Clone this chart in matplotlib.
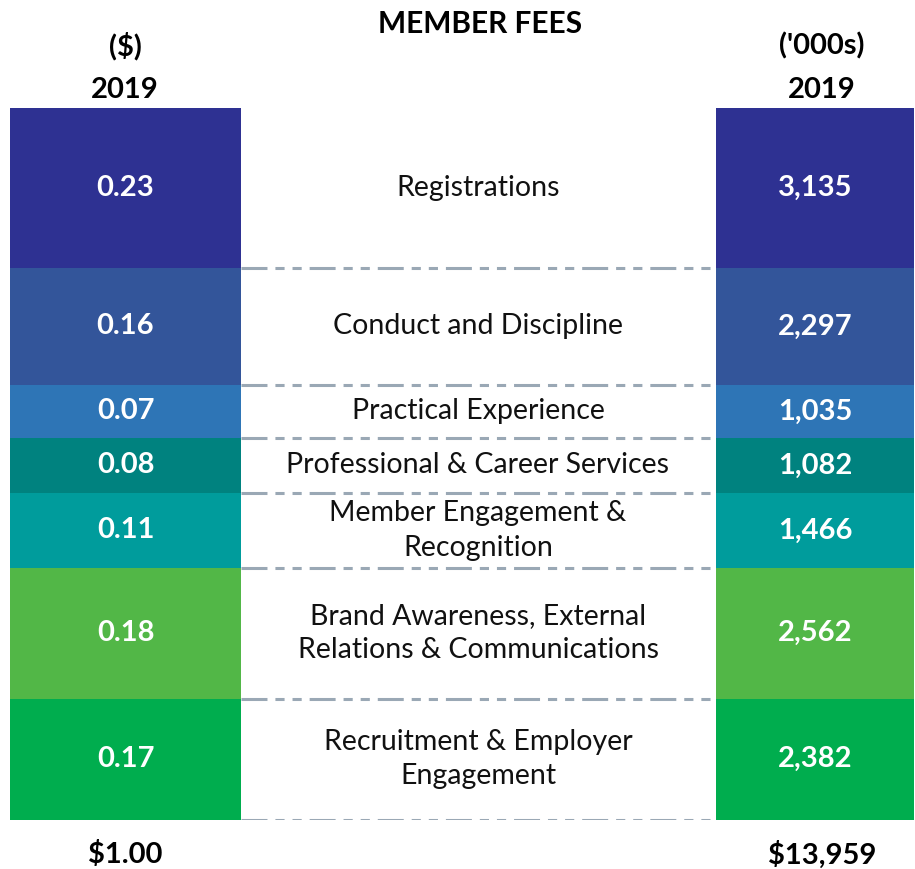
import matplotlib.pyplot as plt
import numpy as np

plt.rcParams["font.family"] = ["Lato", "DejaVu Sans"]

categories = ["Registrations", "Conduct and Discipline", "Practical Experience",
              "Professional & Career Services", "Member Engagement &\nRecognition",
              "Brand Awareness, External\nRelations & Communications",
              "Recruitment & Employer\nEngagement"]
per_dollar = [0.23, 0.16, 0.07, 0.08, 0.11, 0.18, 0.17]
thousands = [3135, 2297, 1035, 1082, 1466, 2562, 2382]
colors = ["#2e3192", "#33559a", "#2e75b6", "#00827f", "#009c9c", "#52b747", "#00ad4e"]

W, H = 915, 869
fig = plt.figure(figsize=(W / 100, H / 100), dpi=100)

# axes that hold the two stacked columns (pixel x, value y)
top, bottom = 108, 820
ax = fig.add_axes([0, 1 - bottom / H, 1, (bottom - top) / H])
total = sum(thousands)
ax.set_xlim(0, W)
ax.set_ylim(total, 0)
ax.axis("off")

starts = np.concatenate([[0], np.cumsum(thousands)[:-1]])
ax.bar(125.5, thousands, bottom=starts, width=231, color=colors, align="center")
ax.bar(815, thousands, bottom=starts, width=198, color=colors, align="center")

for s, v, c, d, k in zip(starts, thousands, categories, per_dollar, thousands):
    mid = s + v / 2
    ax.text(125.5, mid, "{:.2f}".format(d), ha="center", va="center",
            color="white", fontsize=21, fontweight="bold")
    ax.text(815, mid, "{:,}".format(k), ha="center", va="center",
            color="white", fontsize=21, fontweight="bold")
    ax.text(478, mid, c, ha="center", va="center", color="#111111",
            fontsize=20.5, linespacing=1.4)
    ax.plot([241, 716], [s + v, s + v], color="#9aa8b5", lw=2.2,
            dashes=(8.5, 2.6, 3.0, 2.6, 3.0, 2.6), solid_capstyle="butt")

# header and footer texts in figure pixels
def ftext(x, y, s, **kw):
    fig.text(x / W, 1 - y / H, s, ha="center", va="center", color="black",
             fontweight="bold", **kw)

ftext(480, 24, "MEMBER FEES", fontsize=21.5)
ftext(125, 46, "($)", fontsize=21)
ftext(125, 90, "2019", fontsize=21)
ftext(822, 46, "('000s)", fontsize=21)
ftext(822, 90, "2019", fontsize=21)
ftext(125, 855, "$1.00", fontsize=21)
ftext(822, 855, "$13,959", fontsize=21)

plt.savefig("out.png", dpi=100)
